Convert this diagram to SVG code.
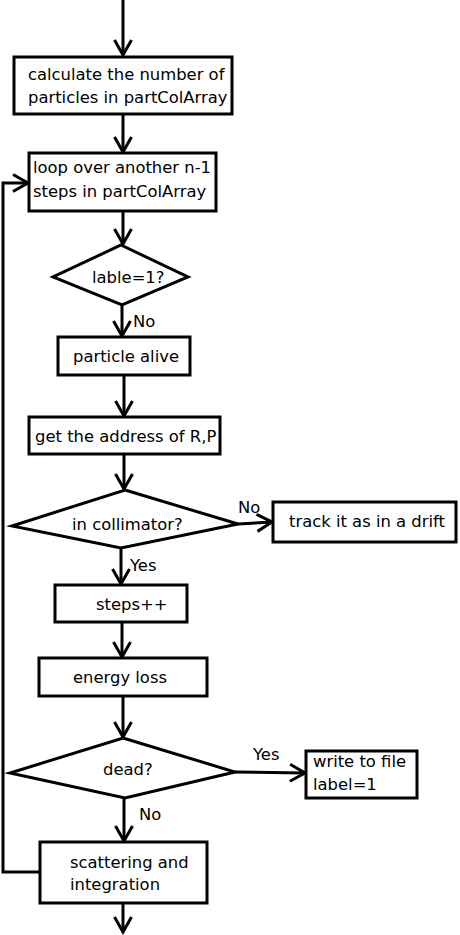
<svg xmlns="http://www.w3.org/2000/svg" width="460" height="935" viewBox="0 0 460 935">
<style>
.n{fill:#fff;stroke:#000;stroke-width:3}
.t{font-family:"DejaVu Sans",sans-serif;font-size:16.4px;fill:#000}
.c{fill:none;stroke:#000;stroke-width:3}
</style>
<defs>
<marker id="a" markerUnits="userSpaceOnUse" viewBox="-18 -11 20 22" refX="0" refY="0" markerWidth="20" markerHeight="22" orient="auto" overflow="visible">
<path d="M-15,-8.5 L0,0 L-15,8.5" fill="none" stroke="#000" stroke-width="3"/>
</marker>
</defs>
<rect width="460" height="935" fill="#fff"/>
<g id="connectors">
<path class="c" d="M123,0 V55" marker-end="url(#a)"/>
<path class="c" d="M123,115 V152" marker-end="url(#a)"/>
<path class="c" d="M123,211 V244" marker-end="url(#a)"/>
<path class="c" d="M122,305 V336" marker-end="url(#a)"/>
<path class="c" d="M124,375 V416" marker-end="url(#a)"/>
<path class="c" d="M124,454 V489" marker-end="url(#a)"/>
<path class="c" d="M238,524 L272,522" marker-end="url(#a)"/>
<path class="c" d="M121,548 V584" marker-end="url(#a)"/>
<path class="c" d="M122,622 V657" marker-end="url(#a)"/>
<path class="c" d="M123,696 V737" marker-end="url(#a)"/>
<path class="c" d="M235,772 L305,773" marker-end="url(#a)"/>
<path class="c" d="M124,798 V841" marker-end="url(#a)"/>
<path class="c" d="M123,903 V932" marker-end="url(#a)"/>
<path class="c" d="M40,872 H3 V183 H28" marker-end="url(#a)"/>
<text class="t" x="133" y="327">No</text>
<text class="t" x="238" y="513">No</text>
<text class="t" x="130" y="571">Yes</text>
<text class="t" x="253" y="760">Yes</text>
<text class="t" x="139" y="820">No</text>
</g>
<g id="calc">
<rect class="n" x="14" y="57" width="218" height="57"/>
<text class="t" x="28" y="80">calculate the number of</text>
<text class="t" x="28" y="103">particles in partColArray</text>
</g>
<g id="loop">
<rect class="n" x="29" y="153" width="187" height="58"/>
<text class="t" x="33" y="173">loop over another n-1</text>
<text class="t" x="33" y="197">steps in partColArray</text>
</g>
<g id="lable">
<polygon class="n" points="121,245 188,277 122,305 53,277"/>
<text class="t" x="92" y="283">lable=1?</text>
</g>
<g id="alive">
<rect class="n" x="58" y="337" width="132" height="38"/>
<text class="t" x="73" y="362">particle alive</text>
</g>
<g id="address">
<rect class="n" x="29" y="417" width="191" height="37"/>
<text class="t" x="35" y="442">get the address of R,P</text>
</g>
<g id="collimator">
<polygon class="n" points="125,490 238,524 121,548 12,526"/>
<text class="t" x="72" y="530">in collimator?</text>
</g>
<g id="drift">
<rect class="n" x="273" y="502" width="183" height="40"/>
<text class="t" x="289" y="527">track it as in a drift</text>
</g>
<g id="steps">
<rect class="n" x="55" y="585" width="132" height="37"/>
<text class="t" x="96" y="610">steps++</text>
</g>
<g id="energy">
<rect class="n" x="39" y="658" width="168" height="38"/>
<text class="t" x="73" y="683">energy loss</text>
</g>
<g id="dead">
<polygon class="n" points="123,738 235,772 125,798 10,773"/>
<text class="t" x="103" y="775">dead?</text>
</g>
<g id="write">
<rect class="n" x="306" y="751" width="111" height="47"/>
<text class="t" x="313" y="767">write to file</text>
<text class="t" x="313" y="790">label=1</text>
</g>
<g id="scatter">
<rect class="n" x="40" y="842" width="167" height="61"/>
<text class="t" x="70" y="868">scattering and</text>
<text class="t" x="70" y="890">integration</text>
</g>
</svg>
